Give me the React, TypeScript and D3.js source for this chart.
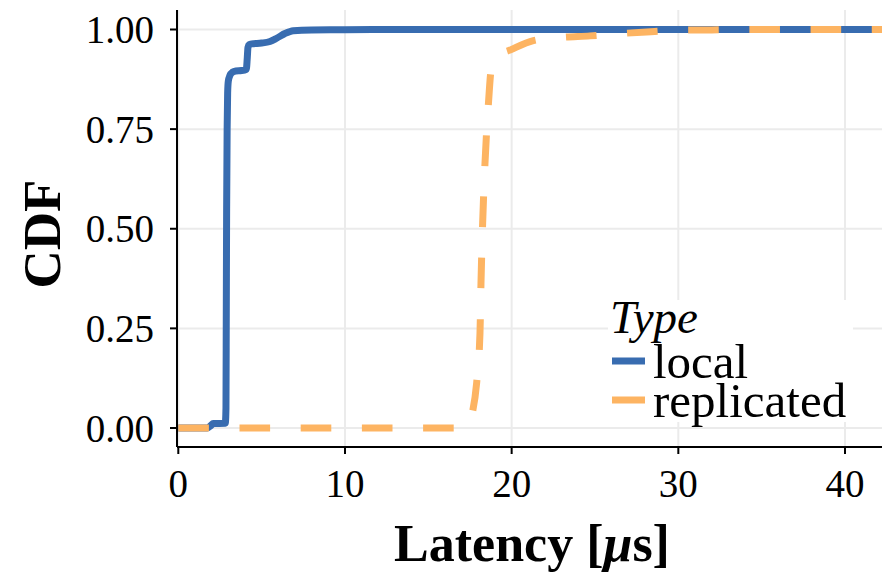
import React from "react";
import * as d3 from "d3";

const W = 882;
const H = 573;

const xTicks = [0, 10, 20, 30, 40];
const yTicks = [0, 0.25, 0.5, 0.75, 1.0];
const yTickLabels = ["0.00", "0.25", "0.50", "0.75", "1.00"];

const seriesNames = ["local", "replicated"];
const seriesColors = ["#386cb0", "#fdb462"];

// local latency CDF (x in µs, y cumulative)
const localX = [0, 1.75, 1.95, 2.1, 2.82, 2.86, 2.88, 2.9, 2.93, 2.96, 3.0, 3.1, 3.25, 3.45, 3.8, 4.08, 4.14, 4.18, 4.25, 4.4, 5.0, 5.5, 5.9, 6.4, 6.9, 8, 10, 14, 20, 30, 43];
const localY = [0, 0, 0.006, 0.011, 0.012, 0.05, 0.3, 0.55, 0.75, 0.84, 0.87, 0.885, 0.893, 0.896, 0.897, 0.9, 0.93, 0.955, 0.962, 0.964, 0.966, 0.97, 0.978, 0.99, 0.997, 0.999, 0.9995, 1, 1, 1, 1];

// replicated latency CDF
const replX = [0, 17.1, 17.4, 17.65, 17.9, 18.1, 18.16, 18.26, 18.4, 18.6, 18.8, 19.3, 20.0, 21.3, 22.9, 24.7, 26.6, 28.1, 29.9, 32, 36, 43];
const replY = [0, 0, 0.01, 0.04, 0.113, 0.238, 0.363, 0.514, 0.664, 0.81, 0.907, 0.936, 0.95, 0.972, 0.98, 0.984, 0.99, 0.994, 0.998, 0.999, 1, 1];

export default function App() {
  const panel = { left: 177, right: 882, top: 10, bottom: 447 };
  const x = d3.scaleLinear().domain([0, 40]).range([178.3, 845]);
  const y = d3.scaleLinear().domain([0, 1]).range([428, 29.5]);

  const line = d3
    .line<[number, number]>()
    .x((d) => x(d[0]))
    .y((d) => y(d[1]))
    .curve(d3.curveMonotoneX);

  const localPts: [number, number][] = localX.map((v, i) => [v, localY[i]]);
  const replPts: [number, number][] = replX.map((v, i) => [v, replY[i]]);

  const serif = "'Liberation Serif', 'DejaVu Serif', serif";
  const grid = "#ebebeb";

  return (
    <svg width={W} height={H} style={{ position: "absolute", left: 0, top: 0, background: "#fff" }}>
      <defs>
        <clipPath id="clip">
          <rect x={panel.left} y={panel.top} width={panel.right - panel.left} height={panel.bottom - panel.top} />
        </clipPath>
      </defs>
      <rect x={0} y={0} width={W} height={H} fill="#fff" />
      {/* grid */}
      <g>
        {yTicks.map((t) => (
          <line key={"gy" + t} x1={panel.left} x2={panel.right} y1={y(t)} y2={y(t)} stroke={grid} strokeWidth={2} />
        ))}
        {xTicks.map((t) => (
          <line key={"gx" + t} x1={x(t)} x2={x(t)} y1={panel.top} y2={panel.bottom} stroke={grid} strokeWidth={2} />
        ))}
      </g>
      {/* lines */}
      <g clipPath="url(#clip)">
        <path d={line(localPts) || ""} fill="none" stroke={seriesColors[0]} strokeWidth={7} strokeLinejoin="round" />
        <path d={line(replPts) || ""} fill="none" stroke={seriesColors[1]} strokeWidth={7} strokeDasharray="30.6 30.6" />
      </g>
      {/* axes */}
      <line x1={panel.left} x2={panel.left} y1={panel.top} y2={panel.bottom} stroke="#000" strokeWidth={2} />
      <line x1={panel.left} x2={panel.right} y1={panel.bottom} y2={panel.bottom} stroke="#000" strokeWidth={2} />
      {yTicks.map((t, i) => (
        <g key={"ty" + t}>
          <line x1={panel.left - 7} x2={panel.left} y1={y(t)} y2={y(t)} stroke="#000" strokeWidth={2} />
          <text x={154} y={y(t)} dy="0.35em" textAnchor="end" fontFamily={serif} fontSize={39} fill="#000">
            {yTickLabels[i]}
          </text>
        </g>
      ))}
      {xTicks.map((t) => (
        <g key={"tx" + t}>
          <line x1={x(t)} x2={x(t)} y1={panel.bottom} y2={panel.bottom + 7} stroke="#000" strokeWidth={2} />
          <text x={x(t)} y={497} textAnchor="middle" fontFamily={serif} fontSize={39} fill="#000">
            {t}
          </text>
        </g>
      ))}
      {/* axis titles */}
      <text
        transform="translate(60,234) rotate(-90)"
        textAnchor="middle"
        fontFamily={serif}
        fontWeight="bold"
        fontSize={53}
        fill="#000"
      >
        CDF
      </text>
      <text x={532} y={561} textAnchor="middle" fontFamily={serif} fontWeight="bold" fontSize={52} fill="#000">
        Latency [<tspan fontStyle="italic">μ</tspan>s]
      </text>
      {/* legend */}
      <rect x={608} y={300} width={245} height={122} fill="#fff" />
      <text x={610} y={333} fontFamily={serif} fontStyle="italic" fontSize={47} fill="#000">
        Type
      </text>
      {seriesNames.map((n, i) => (
        <g key={n}>
          <line
            x1={612}
            x2={645}
            y1={361 + i * 39}
            y2={361 + i * 39}
            stroke={seriesColors[i]}
            strokeWidth={7}
          />
          <text x={653} y={378 + i * 39} fontFamily={serif} fontSize={49} fill="#000">
            {n}
          </text>
        </g>
      ))}
    </svg>
  );
}
